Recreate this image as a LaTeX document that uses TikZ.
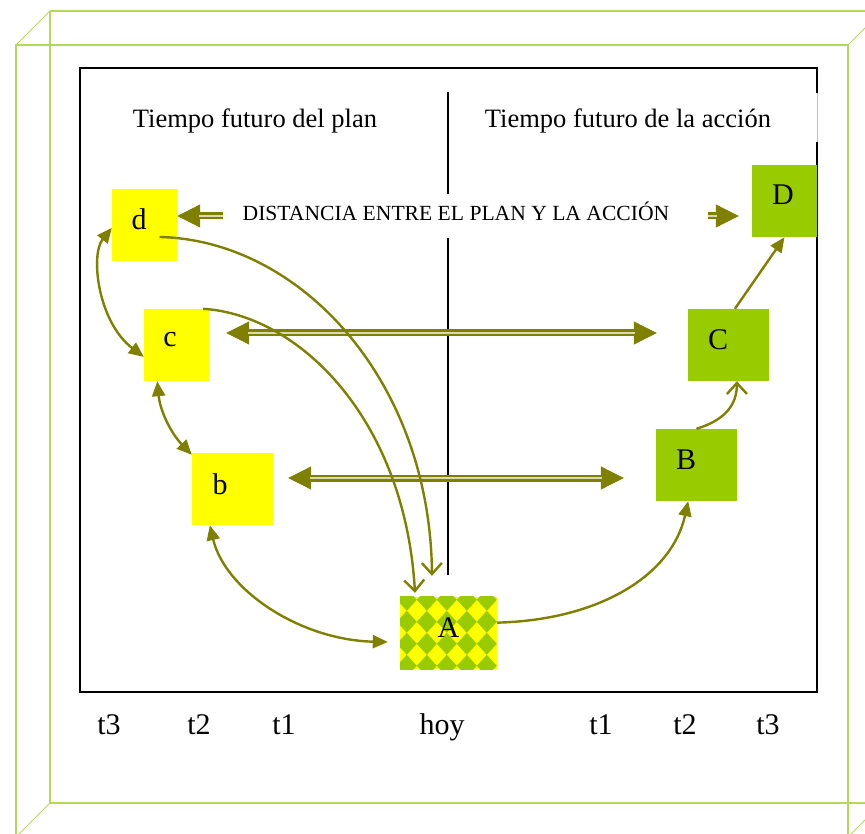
\documentclass[tikz,border=0pt]{standalone}
\usepackage{fontspec}
\setmainfont{Liberation Serif}
\usepackage{tikz}
\usetikzlibrary{arrows.meta, calc, positioning}
\definecolor{planyellow}{HTML}{FFFF00}
\definecolor{actgreen}{HTML}{99CC00}
\definecolor{arrowolive}{HTML}{808000}
\definecolor{framegreen}{RGB}{180,216,90}

\begin{document}
\begin{tikzpicture}[x=1pt, y=-1pt,
	planbox/.style={fill=planyellow, inner sep=0pt, minimum height=72pt},
	actbox/.style={fill=actgreen, inner sep=0pt, minimum height=72pt},
	lbl/.style={font=\fontsize{30}{33}\selectfont, inner sep=0pt},
	titlefont/.style={font=\fontsize{26.5}{30}\selectfont, inner sep=0pt},
	link/.style={draw=arrowolive, line width=2.4pt},
	twoway/.style={link, {Triangle[length=15pt,width=13pt]}-{Triangle[length=15pt,width=13pt]}},
	oneway/.style={link, -{Triangle[length=15pt,width=13pt]}},
	openway/.style={link, -{Straight Barb[length=11pt,width=20pt]}},
	dblarrow/.style={draw=arrowolive, line width=1pt,
		{Triangle[length=23pt,width=23pt]}-{Triangle[length=23pt,width=23pt]},
		postaction={draw=arrowolive, -, line width=2.5pt, double=arrowolive!30,
			double distance=2pt, shorten <=22pt, shorten >=22pt}}]
	\useasboundingbox (0,0) rectangle (865,834);
	\clip (0,0) rectangle (865,834);
	
	% Frame
	\draw[framegreen, line width=1.3pt] (50,11) -- (882,11) (50,11) -- (50,803) -- (882,803);
	\draw[framegreen, line width=1.3pt] (16,45) rectangle (848,837);
	\draw[framegreen, line width=1pt] (16,45) -- (50,11) (848,45) -- (882,11)
		(16,837) -- (50,803) (848,837) -- (882,803);
	
	\draw[line width=1.8pt] (80,68) rectangle (817,692);
	\fill[white] (460,93) rectangle (817.9,142);
	\draw[gray!50, line width=0.6pt] (817,93) -- (817,142);
	
	\node[titlefont, anchor=base] (plantitle) at (255,128) {Tiempo futuro del plan};
	\node[titlefont, anchor=base] (acttitle) at (628,128) {Tiempo futuro de la acción};
	
	\draw[line width=1.5pt] (448,92) -- (448,575);
	
	% Boxes
	\node[planbox, minimum width=65pt, label={[lbl, xshift=-5.5pt, yshift=6pt]center:d}] (d) at (144.5,225) {};
	\node[planbox, minimum width=65pt, label={[lbl, xshift=-6.5pt, yshift=5pt]center:c}] (c) at (176.5,345) {};
	\node[planbox, minimum width=81pt, label={[lbl, xshift=-12.5pt, yshift=5pt]center:b}] (b) at (232.5,489) {};
	\node[actbox, minimum width=81pt, label={[lbl, xshift=-10.5pt, yshift=5pt]center:B}] (B) at (696.5,465) {};
	\node[actbox, minimum width=81pt, label={[lbl, xshift=-10.5pt, yshift=5pt]center:C}] (C) at (728.5,345) {};
	\node[actbox, minimum width=65pt, label={[lbl, xshift=-1.5pt, yshift=6pt]center:D}] (D) at (784.5,201) {};
	\node[inner sep=0pt, minimum width=97pt, minimum height=72pt] (A) at (448.5,633) {};
	\begin{scope}
		\clip (A.north west) rectangle (A.south east);
		\fill[planyellow] (A.north west) rectangle (A.south east);
		\foreach \i in {-1,...,5}
			\foreach \j in {-1,...,4}
				\fill[actgreen] ($(A.north west)+(7+20*\i,3+22*\j)$) ++(-10,0) -- ++(10,-11) -- ++(10,11) -- ++(-10,11) -- cycle;
	\end{scope}
	\node[lbl] (Atext) at ($(A)+(0,-5)$) {A};
	
	% Distance between plan and action
	\coordinate (distmid) at (465.5,216);
	\draw[dblarrow] (d.east |- distmid) -- ($(D.west |- distmid)+(-13,0)$);
	\node[fill=white, inner sep=0pt, minimum width=485pt, minimum height=44pt] (dist) at (distmid) {};
	\node[anchor=base, inner sep=0pt, font=\fontsize{21.6}{24}\selectfont] (disttext) at (456,221)
		{DISTANCIA ENTRE EL PLAN Y LA ACCIÓN};
	\draw[dblarrow] ($(c.east)+(17,-12)$) -- ($(C.west)+(-31,-12)$);
	\draw[dblarrow] ($(b.east)+(15,-11)$) -- ($(B.west)+(-32,13)$);
	
	% Curved links
	\draw[twoway] (d.185) .. controls (90,255) and (98,322) .. (c.200);
	\draw[twoway] (c.242) .. controls (160,410) and (170,432) .. (b.140);
	\draw[twoway] (b.238) .. controls (225,590) and (300,640) .. ($(A.west)+(-12,9)$);
	\draw[oneway] (A.12) .. controls (600,620) and (672,575) .. (B.257);
	\draw[openway] (B.north) .. controls (725,420) and (737,405) .. (C.283);
	\draw[oneway] (C.80) -- (D.south);
	\draw[openway] ($(d.center)+(15,12)$) .. controls (300,240) and (430,380) .. ($(A.north)+(-16.5,-21)$);
	\draw[openway] ($(c.north east)+(-6,0)$) .. controls (300,315) and (405,420) .. ($(A.north)+(-33.5,-4)$);
	
	% Time marks
	\foreach \x/\t in {109/t3, 199/t2, 284/t1, 442/hoy, 601/t1, 685/t2, 768/t3}
		\node[lbl, anchor=base] (time\x) at (\x,734) {\t};
\end{tikzpicture}
\end{document}
